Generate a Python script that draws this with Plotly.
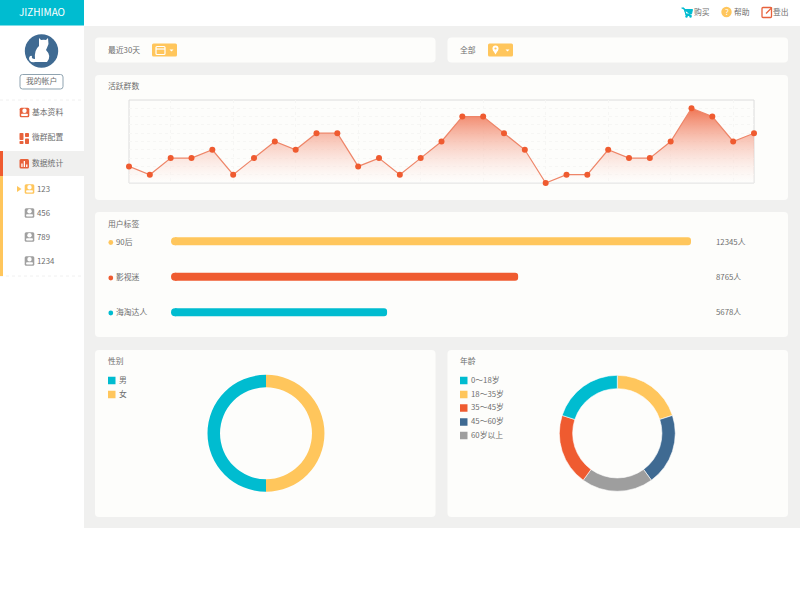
import plotly.graph_objects as go

W, H = 800, 600

# data
active_days = list(range(1, 32))
active_groups = [2, 1, 3, 3, 4, 1, 3, 5, 4, 6, 6, 2, 3, 1, 3, 5,
                 8, 8, 6, 4, 0, 1, 1, 4, 3, 3, 5, 9, 8, 5, 6]

tag_names = ['90后', '影视迷', '海淘达人']
tag_bar_lengths = [100, 66.5, 41.1]
tag_counts = ['12345人', '8765人', '5678人']

# pies are drawn clockwise from the top
gender_names = ['女', '男']
gender_values = [50, 50]
gender_legend = ['男', '女']

age_names = ['18～35岁', '45～60岁', '60岁以上', '35～45岁', '0～18岁']
age_values = [20, 20, 20, 20, 20]
age_legend = ['0～18岁', '18～35岁', '35～45岁', '45～60岁', '60岁以上']

TEAL = '#00BCD0'
YELLOW = '#FFC65C'
ORANGE = '#EF5B30'
BLUE = '#3F6A92'
GREY = '#9E9E9E'
TEXT = '#6E6E6E'
CARD = '#FDFDFB'
FONT = 'Noto Sans CJK SC'

tag_colors = [YELLOW, ORANGE, TEAL]
gender_colors = {'男': TEAL, '女': YELLOW}
age_colors = {'0～18岁': TEAL, '18～35岁': YELLOW, '35～45岁': ORANGE, '45～60岁': BLUE, '60岁以上': GREY}


def px(x):
    return x / W


def py(y):
    return 1 - y / H


def path(cmds):
    # cmds like [('M', 1, 2), ('L', 3, 4), ('Q', 1, 2, 3, 4), ('Z',)] in screen pixels
    out = []
    for c in cmds:
        nums = []
        for i, v in enumerate(c[1:]):
            nums.append(f'{px(v) if i % 2 == 0 else py(v):.5f}')
        out.append(c[0] + ' ' + ','.join(nums) if nums else c[0])
    return ' '.join(out)


shapes = []
annotations = []


def add_path(cmds, fill=None, line=None, lw=0):
    shapes.append(dict(type='path', xref='paper', yref='paper', path=path(cmds), layer='below',
                       fillcolor=fill or 'rgba(0,0,0,0)',
                       line=dict(color=line or 'rgba(0,0,0,0)', width=lw)))


def rrect(x0, y0, x1, y1, r=0, fill=None, line=None, lw=0):
    add_path([('M', x0 + r, y0), ('L', x1 - r, y0), ('Q', x1, y0, x1, y0 + r),
              ('L', x1, y1 - r), ('Q', x1, y1, x1 - r, y1), ('L', x0 + r, y1),
              ('Q', x0, y1, x0, y1 - r), ('L', x0, y0 + r), ('Q', x0, y0, x0 + r, y0), ('Z',)],
             fill, line, lw)


def circle(cx, cy, r, fill):
    shapes.append(dict(type='circle', xref='paper', yref='paper', layer='below',
                       x0=px(cx - r), x1=px(cx + r), y0=py(cy + r), y1=py(cy - r),
                       fillcolor=fill, line=dict(width=0)))


def label(x, y, text, size=7.8, color=TEXT, anchor='left'):
    # annotation boxes sit a bit right of and below the asked position
    if anchor == 'left':
        x -= 1.5
    annotations.append(dict(x=px(x), y=py(y - 1.2), xref='paper', yref='paper', text=text, showarrow=False,
                            xanchor=anchor, yanchor='middle', borderpad=0,
                            font=dict(family=FONT, size=size, color=color)))


def person_icon(cx, cy, color, s=5.5):
    rrect(cx - s, cy - s, cx + s, cy + s, 1.5, color)
    circle(cx, cy - 1.7, 2.2, 'white')
    rrect(cx - 3.4, cy + 1.3, cx + 3.4, cy + 3.6, 0.8, 'white')


# page background, header and sidebar
rrect(84, 26, 800, 528, 0, '#F0F0EF')
rrect(0, 0, 84, 25.5, 0, TEAL)
label(41.5, 12.5, 'JIZHIMAO', 10, 'white', 'center')

# cards
for box in [(95, 37.5, 435.5, 62.5), (447.5, 37.5, 788, 62.5), (95, 75, 788, 200),
            (95, 212, 788, 337), (95, 350, 435.5, 517), (447.5, 350, 788, 517)]:
    rrect(*box, 4, CARD)

# avatar
circle(41.5, 51, 16.7, BLUE)
add_path([('M', 39, 38), ('L', 41, 40), ('Q', 44, 39.5, 46, 40), ('L', 48, 38), ('L', 48.5, 44),
          ('Q', 47, 48, 46, 50), ('Q', 52, 56, 47, 62), ('L', 35, 62), ('Q', 29, 63, 29, 58),
          ('Q', 30, 55, 32, 56), ('Q', 31, 59, 35, 59), ('Q', 34, 50, 39, 46), ('Z',)], 'white')

# account button
rrect(20, 74.5, 63, 89, 2.5, 'white', '#8FA3B0', 1)
label(41.5, 81.5, '我的帐户', 7.8, TEXT, 'center')

# sidebar menu
shapes.append(dict(type='line', xref='paper', yref='paper', layer='below', x0=0, x1=px(84), y0=py(100), y1=py(100),
                   line=dict(color='#F0F0F0', width=1, dash='dot')))
shapes.append(dict(type='line', xref='paper', yref='paper', layer='below', x0=0, x1=px(84), y0=py(276), y1=py(276),
                   line=dict(color='#F0F0F0', width=1, dash='dot')))
rrect(0, 151, 84, 176, 0, '#F0F0EF')
rrect(0, 151, 3, 176, 0, ORANGE)
rrect(0, 176, 3, 276, 0, YELLOW)

person_icon(24.5, 112.5, '#E8623C', 4.8)
label(32.5, 112.5, '基本资料')

rrect(19.5, 133, 23.5, 140, 0.8, '#E8623C')
rrect(25, 133, 29, 137, 0.8, '#E8623C')
rrect(19.5, 141, 23.5, 144, 0.8, '#E8623C')
rrect(25, 138.5, 29, 144, 0.8, '#E8623C')
label(32.5, 138, '微群配置')

rrect(19.5, 159, 29, 168.5, 1.5, '#E8623C')
rrect(21.3, 163.5, 22.6, 167, 0, 'white')
rrect(23.7, 161, 25, 167, 0, 'white')
rrect(26.1, 164.5, 27.4, 167, 0, 'white')
label(32.5, 163.5, '数据统计')

add_path([('M', 17, 186), ('L', 21.5, 189), ('L', 17, 192), ('Z',)], YELLOW)
person_icon(29.5, 189, YELLOW, 4.8)
label(37.5, 189.5, '123')
for yy, name in [(213, '456'), (237, '789'), (261, '1234')]:
    person_icon(29.5, yy, '#A0A0A0', 4.8)
    label(37.5, yy + 0.5, name)

# top right links
add_path([('M', 681.5, 8), ('L', 684, 8), ('L', 686, 14), ('L', 691.5, 14), ('L', 692.5, 9.5), ('L', 684.5, 9.5),
          ('L', 686, 15.5), ('L', 691.5, 15.5)], TEAL, TEAL, 1)
circle(686.5, 16.5, 1.2, TEAL)
circle(690.5, 16.5, 1.2, TEAL)
label(694, 12.5, '购买')

circle(726.5, 12, 5.2, YELLOW)
label(726.5, 13, '?', 8, 'white', 'center')
label(734, 12.5, '帮助')

rrect(762, 7.5, 771.5, 17.5, 1, None, '#E8623C', 1.3)
add_path([('M', 766, 13.5), ('L', 772, 7.5)], None, '#E8623C', 1.3)
label(773, 12.5, '登出')

# filter row
label(108.5, 50.5, '最近30天')
rrect(152, 43.5, 177, 56.5, 1.5, YELLOW)
rrect(156, 46.5, 165, 54.5, 1, None, 'white', 1.2)
add_path([('M', 156, 49), ('L', 165, 49)], None, 'white', 1.2)
add_path([('M', 169.5, 49.5), ('L', 173.5, 49.5), ('L', 171.5, 51.5), ('Z',)], 'white')

label(460, 50.5, '全部')
rrect(488, 43.5, 513, 56.5, 1.5, YELLOW)
circle(495.5, 48.5, 3, 'white')
add_path([('M', 492.8, 50), ('L', 495.5, 54.5), ('L', 498.2, 50), ('Z',)], 'white')
circle(495.5, 48.5, 1.1, YELLOW)
add_path([('M', 505.5, 49.5), ('L', 509.5, 49.5), ('L', 507.5, 51.5), ('Z',)], 'white')

# card titles
label(108.5, 86.5, '活跃群数')
label(108.5, 224.5, '用户标签')
label(108.5, 361.5, '性别')
label(460, 361.5, '年龄')

# frame of the line chart, kept under the markers
rrect(129, 100, 754, 183, 0, None, '#DCDCDC', 1)

# tag rows
tag_rows_y = [241.5, 277, 312]
for yy, name, cnt, col in zip(tag_rows_y, tag_names, tag_counts, tag_colors):
    circle(110.8, yy + 1, 2.4, col)
    label(116, yy + 1, name)
    label(716, yy + 1, cnt)

# legends
for yy, name in zip([380.5, 394.5], gender_legend):
    rrect(108, yy - 3.8, 115.5, yy + 3.8, 0, gender_colors[name])
    label(119, yy, name)
for yy, name in zip([380.5, 394.5, 408, 422, 435.5], age_legend):
    rrect(460, yy - 3.8, 467.5, yy + 3.8, 0, age_colors[name])
    label(471, yy, name)

fig = go.Figure()

# active groups area line
fig.add_trace(go.Scatter(
    x=active_days, y=active_groups, xaxis='x', yaxis='y', mode='lines+markers', fill='tozeroy',
    fillgradient=dict(type='vertical', colorscale=[[0, 'rgba(255,255,255,0.3)'], [1, 'rgba(239,110,75,0.95)']]),
    line=dict(color='#EE8568', width=1.2),
    marker=dict(color=ORANGE, size=6), cliponaxis=False, showlegend=False))

# user tag bars, the dot rounds off the left end since barcornerradius only does the far end
fig.add_trace(go.Bar(
    x=tag_bar_lengths, y=tag_names, orientation='h', xaxis='x2', yaxis='y2',
    marker=dict(color=tag_colors, line=dict(width=0)), showlegend=False))
fig.add_trace(go.Scatter(
    x=[0, 0, 0], y=tag_names, xaxis='x2', yaxis='y2', mode='markers', cliponaxis=False,
    marker=dict(color=tag_colors, size=8, line=dict(width=0)), showlegend=False))

# donuts
fig.add_trace(go.Pie(
    labels=gender_names, values=gender_values, hole=0.786, sort=False, direction='clockwise',
    rotation=0, textinfo='none', marker=dict(colors=[gender_colors[g] for g in gender_names], line=dict(width=0)),
    domain=dict(x=[px(207.5), px(324.5)], y=[py(491.8), py(374.8)]), showlegend=False))
fig.add_trace(go.Pie(
    labels=age_names, values=age_values, hole=0.77, sort=False, direction='clockwise',
    rotation=0, textinfo='none', marker=dict(colors=[age_colors[a] for a in age_names], line=dict(color='white', width=0.6)),
    domain=dict(x=[px(559.3), px(675.3)], y=[py(491.3), py(375.3)]), showlegend=False))

fig.update_layout(
    width=W, height=H, margin=dict(l=0, r=0, t=0, b=0, pad=0),
    paper_bgcolor='white', plot_bgcolor='rgba(0,0,0,0)',
    font=dict(family=FONT, size=9, color=TEXT),
    shapes=shapes, annotations=annotations,
    barcornerradius=4, bargap=0.775,
    xaxis=dict(domain=[px(129), px(754)], range=[1, 31], dtick=3, showticklabels=False, ticks='',
               showgrid=True, gridcolor='#F6F6F4', griddash='dot', gridwidth=1, zeroline=False, showline=False),
    yaxis=dict(domain=[py(183), py(100)], range=[0, 10], dtick=1, showticklabels=False, ticks='',
               showgrid=True, gridcolor='#F6F6F4', griddash='dot', gridwidth=1, zeroline=False, showline=False),
    xaxis2=dict(domain=[px(175), px(691)], range=[0, 100], visible=False, anchor='y2'),
    yaxis2=dict(domain=[py(330), py(223.5)], visible=False, anchor='x2', autorange='reversed',
                categoryorder='array', categoryarray=tag_names),
)

fig.write_html("out.html", config=dict(displayModeBar=False),
               post_script="document.body.style.margin='0';")
